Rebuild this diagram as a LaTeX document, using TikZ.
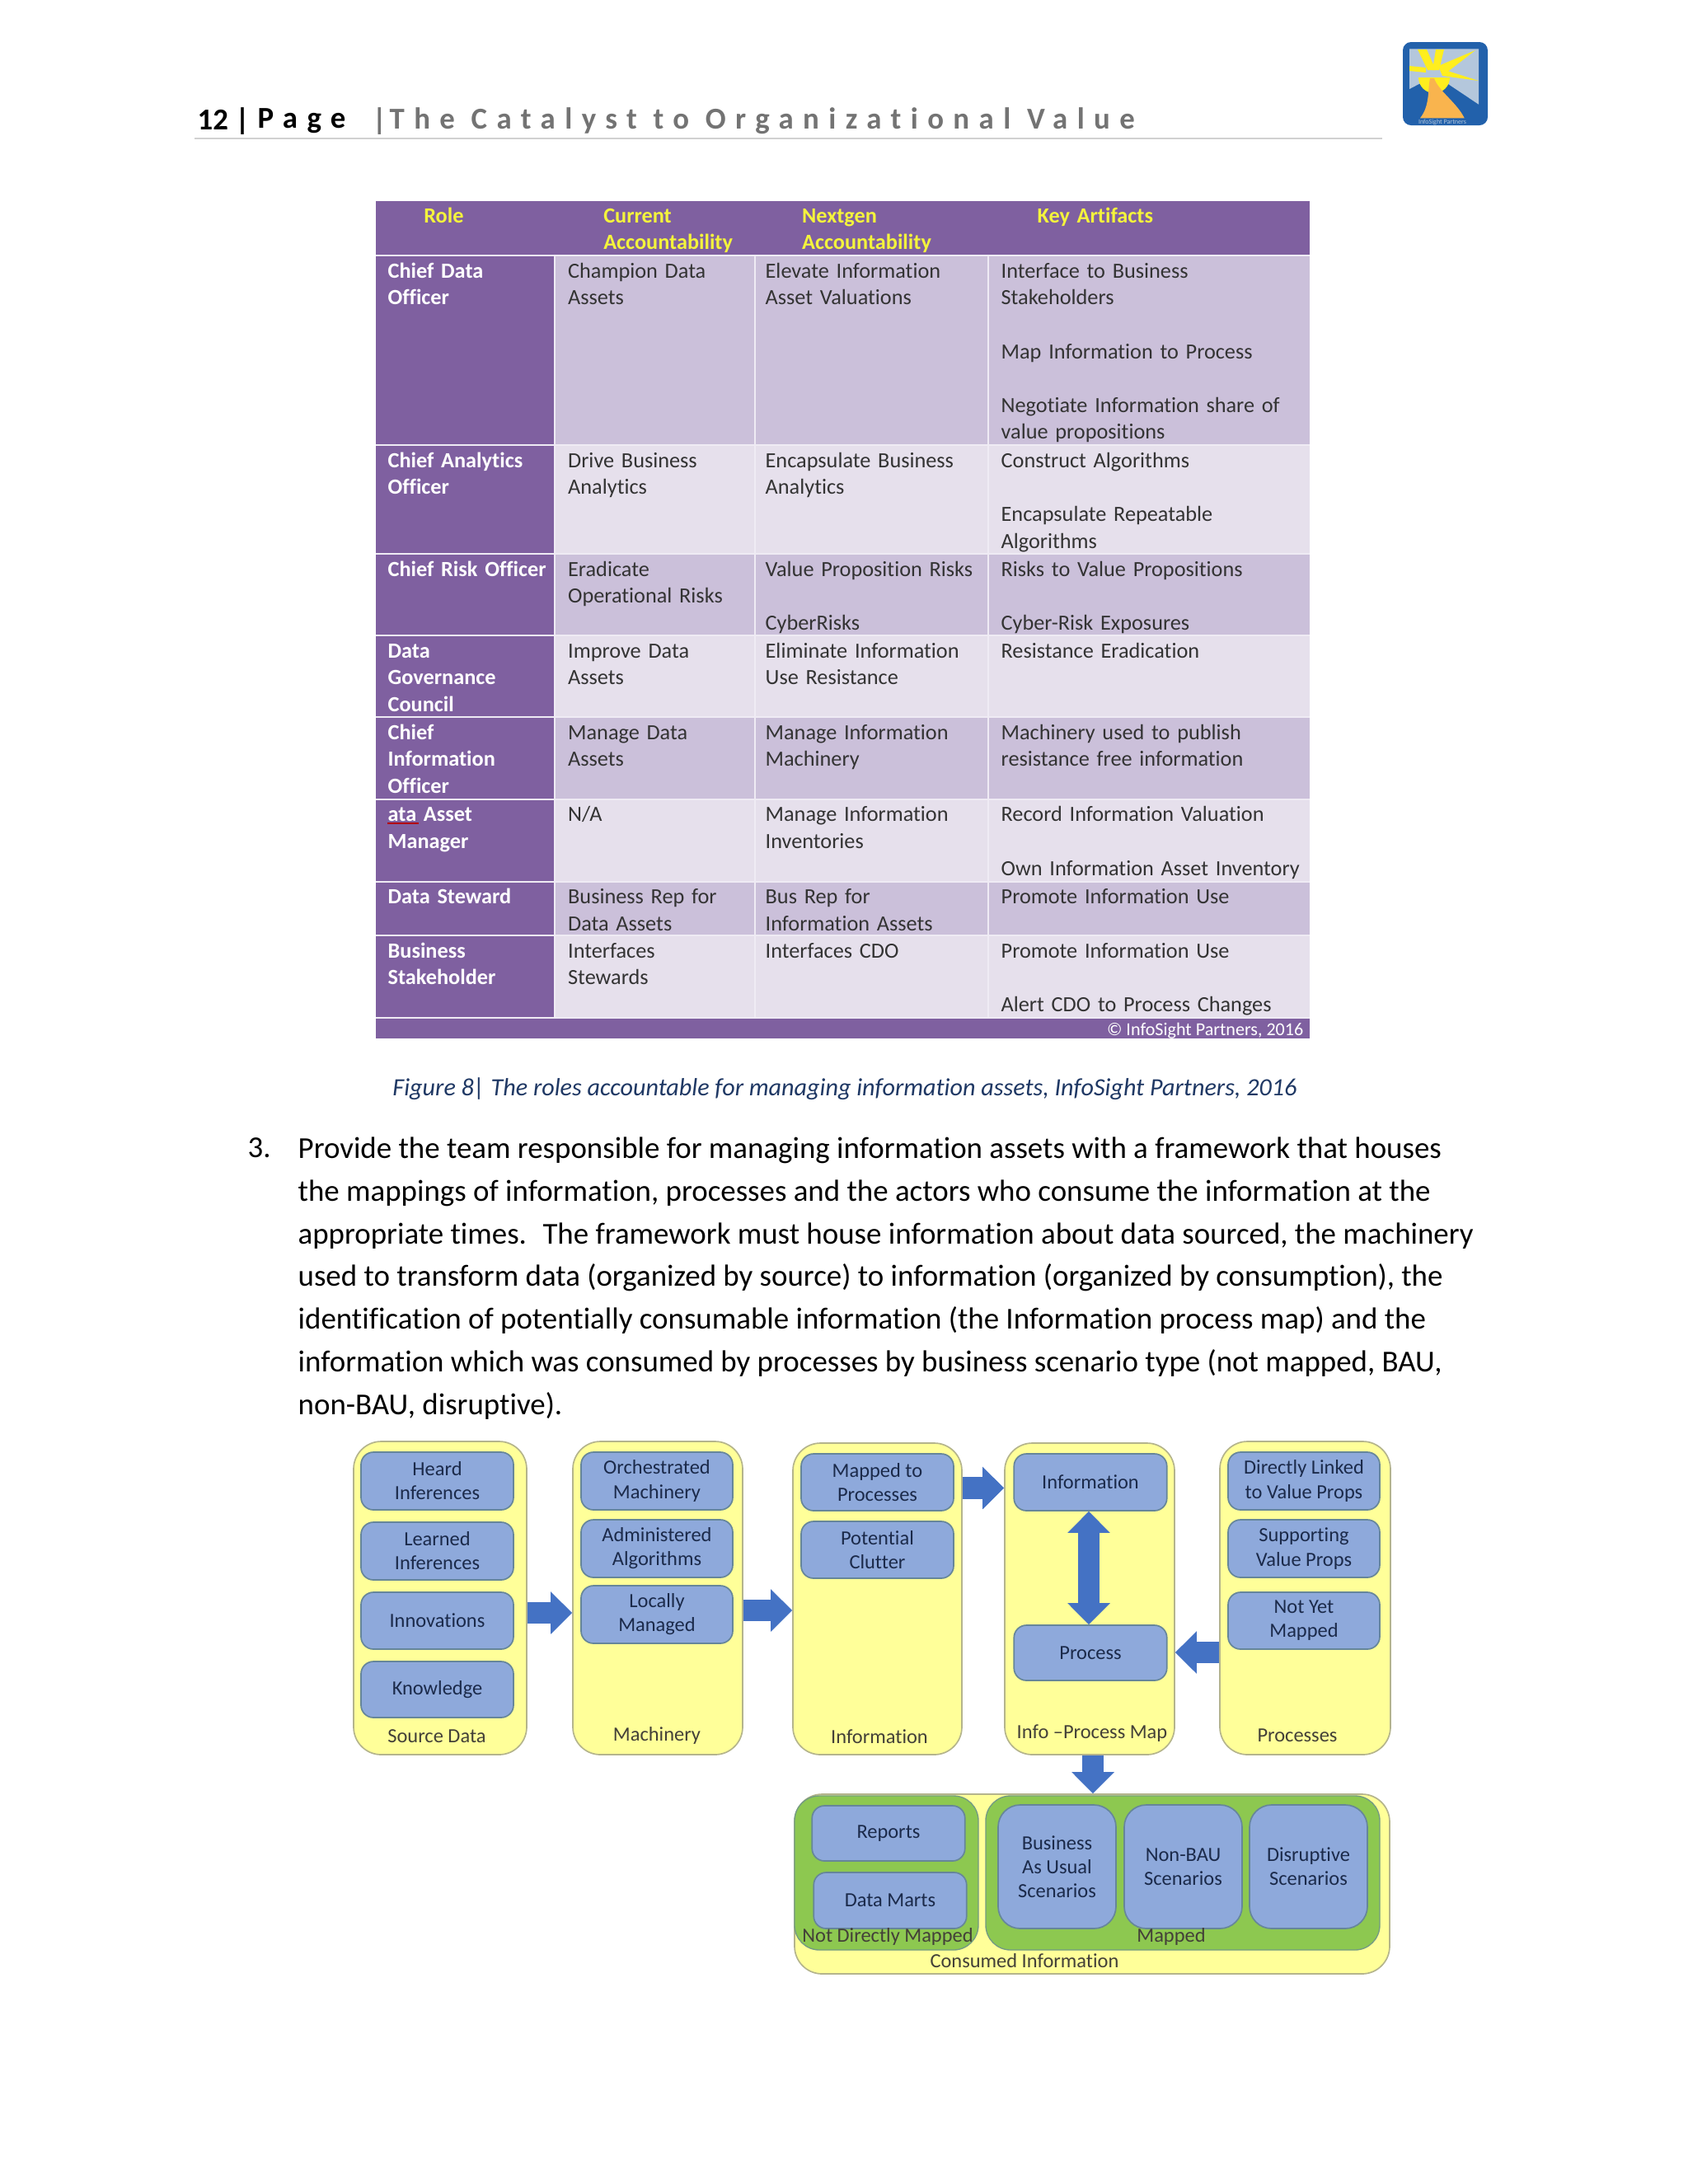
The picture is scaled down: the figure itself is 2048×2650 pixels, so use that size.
\documentclass[tikz,border=0pt]{standalone}
\usepackage{fontspec}
\usetikzlibrary{arrows.meta}
\setmainfont[Ligatures=CommonOff]{Carlito}
\newfontfamily\spacedfont[LetterSpace=31,Ligatures=CommonOff]{Carlito}
\definecolor{rolepurple}{HTML}{7F60A0}
\definecolor{rowdark}{HTML}{CBC0DA}
\definecolor{rowlight}{HTML}{E6E0EC}
\definecolor{rulelight}{HTML}{EFEBF4}
\definecolor{headyellow}{HTML}{F4F43C}
\definecolor{captionblue}{HTML}{1F3864}
\definecolor{panelyellow}{HTML}{FFFF99}
\definecolor{paneledge}{HTML}{B4B48C}
\definecolor{boxblue}{HTML}{8EA9DB}
\definecolor{boxedge}{HTML}{66869A}
\definecolor{groupgreen}{HTML}{8DC850}
\definecolor{arrowblue}{HTML}{4472C4}
\definecolor{boxtext}{HTML}{1B2A4A}
\definecolor{logoblue}{HTML}{2261AB}
\definecolor{logosky}{HTML}{B4C7DC}
\definecolor{logosun}{HTML}{FFEE1E}
\definecolor{logoroad}{HTML}{F9B44E}
\def\pw{0.2988pt}
\tikzset{
	wh/.style 2 args={minimum width={#1*\pw},minimum height={#2*\pw}},
	cell/.style={anchor=north west,inner sep=0pt,align=left,text width={#1*\pw},text=black!80,font=\fontsize{7.85}{9.72}\selectfont,execute at begin node=\strut},
	cell/.default=225,
	colc/.style={cell=265},
	cold/.style={cell=370},
	rolecell/.style={cell=198,text=white,font=\fontsize{7.85}{9.72}\selectfont\bfseries},
	headcell/.style={cell=#1,text=headyellow,font=\fontsize{7.85}{9.72}\selectfont\bfseries},
	panel/.style={draw=paneledge,fill=panelyellow,line width=0.5pt,rounded corners=10pt},
	group/.style={draw=boxedge!70!groupgreen,fill=groupgreen,line width=0.4pt,rounded corners=9pt},
	inbox/.style={draw=boxedge,fill=boxblue,line width=0.5pt,rounded corners=4.5pt,align=center,text=boxtext,inner sep=0pt,font=\fontsize{7.3}{8.7}\selectfont},
	tallbox/.style={inbox,rounded corners=8pt},
	caplabel/.style={inner sep=0pt,text=black!85!yellow,font=\fontsize{7.3}{8.7}\selectfont},
	blockarrow/.style={-{Triangle[length=7.8pt,width=15pt]},draw=arrowblue,line width=7.8pt},
	twoarrow/.style={{Triangle[length=7.8pt,width=15pt]}-{Triangle[length=7.8pt,width=15pt]},draw=arrowblue,line width=7.8pt},
}
\begin{document}
\begin{tikzpicture}[x=0.2988pt,y=-0.2988pt]
	\useasboundingbox (0,0) rectangle (2048,2650);

	\node(pagenum) at (239,147)[anchor=west,inner sep=0pt,font=\fontsize{11}{13}\selectfont\bfseries]{12 |};
	\node(pageword) at (312,147)[anchor=west,inner sep=0pt,font=\spacedfont\fontsize{11}{13}\selectfont\bfseries]{Page};
	\node(headbar) at (451,147)[anchor=west,inner sep=0pt,text=black!55,font=\fontsize{11}{13}\selectfont\bfseries]{|};
	\node(runhead) at (472,147)[anchor=west,inner sep=0pt,text=black!55,font=\spacedfont\fontsize{11}{13}\selectfont\bfseries]{The Catalyst to Organizational Value};
	\draw[black!18,line width=0.6pt] (236,168) -- (1677,168);

	\fill[logoblue,rounded corners=3pt] (1702,51) rectangle (1805,152);
	\fill[logosky] (1710,59.3) -- (1794,59.3) -- (1794,126.7) -- (1746.7,95) -- (1735,95) -- (1710,108) -- cycle;
	\fill[logosun] (1720,60) -- (1731,60) -- (1742,85) -- (1732,85) -- cycle;
	\fill[logosun] (1742,60) -- (1752,60) -- (1746,85) -- (1738,85) -- cycle;
	\fill[logosun] (1790,61) -- (1745,80) -- (1750,92) -- cycle;
	\fill[logosun] (1794,98) -- (1750,84) -- (1750,92) -- cycle;
	\fill[logosun] (1710,80) -- (1710,86) -- (1730,88) -- (1730,82) -- cycle;
	\fill[logosun] (1721,94) arc[start angle=180,end angle=0,radius=19] -- cycle;
	\fill[logoroad] (1735,95) -- (1740,95) .. controls (1745,110) and (1768,125) .. (1776.7,143.3) -- (1723,143.3) .. controls (1735,128) and (1732,110) .. cycle;
	\node(logotext) at (1750,148)[inner sep=0pt,text=logosky,font=\fontsize{2.4}{3}\selectfont]{InfoSight Partners};

	\fill[rolepurple] (456,244) rectangle (1589,1260);
	\foreach \rtop/\rbot/\rcol in {310/540/rowdark,540/672/rowlight,672/771/rowdark,771/870/rowlight,870/969.5/rowdark,969.5/1069.5/rowlight,1069.5/1134.6/rowdark,1134.6/1234.6/rowlight}
		\fill[\rcol] (673,\rtop) rectangle (1589,\rbot);
	\foreach \rtop in {310,540,672,771,870,969.5,1069.5,1134.6,1234.6}
		\draw[rulelight,line width=0.6pt] (456,\rtop) -- (1589,\rtop);
	\foreach \cx in {673,916,1199}
		\draw[rulelight,line width=0.4pt] (\cx,310) -- (\cx,1234.6);

	\node(hrole) at (513.7,247)[headcell=150]{Role};
	\node(hcur) at (731.6,247)[headcell=220]{Current\\Accountability};
	\node(hnext) at (972.5,247)[headcell=220]{Nextgen\\Accountability};
	\node(hkey) at (1258,247)[headcell=250]{Key Artifacts};

	\node(r1a) at (470,314)[rolecell]{Chief Data\\Officer};
	\node(r1b) at (688.5,314)[cell]{Champion Data\\Assets};
	\node(r1c) at (928,314)[colc]{Elevate Information\\Asset Valuations};
	\node(r1d) at (1214,314)[cold]{Interface to Business\\Stakeholders\\[9.72pt]Map Information to Process\\[9.72pt]Negotiate Information share of\\value propositions};

	\node(r2a) at (470,544)[rolecell]{Chief Analytics\\Officer};
	\node(r2b) at (688.5,544)[cell]{Drive Business\\Analytics};
	\node(r2c) at (928,544)[colc]{Encapsulate Business\\Analytics};
	\node(r2d) at (1214,544)[cold]{Construct Algorithms\\[9.72pt]Encapsulate Repeatable\\Algorithms};

	\node(r3a) at (470,676)[rolecell]{Chief Risk Officer};
	\node(r3b) at (688.5,676)[cell]{Eradicate\\Operational Risks};
	\node(r3c) at (928,676)[colc]{Value Proposition Risks\\[9.72pt]CyberRisks};
	\node(r3d) at (1214,676)[cold]{Risks to Value Propositions\\[9.72pt]Cyber-Risk Exposures};

	\node(r4a) at (470,775)[rolecell]{Data\\Governance\\Council};
	\node(r4b) at (688.5,775)[cell]{Improve Data\\Assets};
	\node(r4c) at (928,775)[colc]{Eliminate Information\\Use Resistance};
	\node(r4d) at (1214,775)[cold]{Resistance Eradication};

	\node(r5a) at (470,874)[rolecell]{Chief\\Information\\Officer};
	\node(r5b) at (688.5,874)[cell]{Manage Data\\Assets};
	\node(r5c) at (928,874)[colc]{Manage Information\\Machinery};
	\node(r5d) at (1214,874)[cold]{Machinery used to publish\\resistance free information};

	\node(r6a) at (470,973.5)[rolecell]{ata Asset\\Manager};
	\draw[red!70!black,line width=0.5pt] (470,999) -- (508,999);
	\node(r6b) at (688.5,973.5)[cell]{N/A};
	\node(r6c) at (928,973.5)[colc]{Manage Information\\Inventories};
	\node(r6d) at (1214,973.5)[cold]{Record Information Valuation\\[9.72pt]Own Information Asset Inventory};

	\node(r7a) at (470,1073.5)[rolecell]{Data Steward};
	\node(r7b) at (688.5,1073.5)[cell]{Business Rep for\\Data Assets};
	\node(r7c) at (928,1073.5)[colc]{Bus Rep for\\Information Assets};
	\node(r7d) at (1214,1073.5)[cold]{Promote Information Use};

	\node(r8a) at (470,1139)[rolecell]{Business\\Stakeholder};
	\node(r8b) at (688.5,1139)[cell]{Interfaces\\Stewards};
	\node(r8c) at (928,1139)[colc]{Interfaces CDO};
	\node(r8d) at (1214,1139)[cold]{Promote Information Use\\[9.72pt]Alert CDO to Process Changes};

	\node(tablecredit) at (1582,1251)[anchor=east,inner sep=0pt,text=white,font=\fontsize{6.6}{8}\selectfont]{© InfoSight Partners, 2016};

	\node(figcaption) at (1025,1307)[anchor=north,inner sep=0pt,text=captionblue,font=\fontsize{9}{11}\selectfont\itshape]{Figure 8| The roles accountable for managing information assets, InfoSight Partners, 2016};

	\node(itemnum) at (300,1393)[anchor=west,inner sep=0pt,font=\fontsize{11}{15.5}\selectfont]{3.};
	\node(itembody) at (361,1379)[anchor=north west,inner sep=0pt,align=left,font=\fontsize{11.03}{15.5}\selectfont]{Provide the team responsible for managing information assets with a framework that houses\\the mappings of information, processes and the actors who consume the information at the\\appropriate times.~ The framework must house information about data sourced, the machinery\\used to transform data (organized by source) to information (organized by consumption), the\\identification of potentially consumable information (the Information process map) and the\\information which was consumed by processes by business scenario type (not mapped, BAU,\\non-BAU, disruptive).};

	\node(srcpanel) at (534,1939)[panel,wh={210}{380}]{};
	\node(machpanel) at (798,1939)[panel,wh={206}{380}]{};
	\node(infopanel) at (1064.5,1940)[panel,wh={205}{378}]{};
	\node(mappanel) at (1322,1940)[panel,wh={206}{378}]{};
	\node(procpanel) at (1583.5,1939)[panel,wh={207}{380}]{};

	\node(heard) at (530.5,1797)[inbox,wh={185}{70}]{Heard\\Inferences};
	\node(learned) at (530.5,1882)[inbox,wh={185}{70}]{Learned\\Inferences};
	\node(innov) at (530.5,1966.5)[inbox,wh={185}{69}]{Innovations};
	\node(know) at (530.5,2050)[inbox,wh={185}{68}]{Knowledge};
	\node(srclabel) at (530,2107)[caplabel]{Source Data};

	\node(orch) at (797,1797)[inbox,wh={184}{70}]{Orchestrated\\Machinery};
	\node(admin) at (797,1879)[inbox,wh={184}{70}]{Administered\\Algorithms};
	\node(local) at (797,1959)[inbox,wh={184}{70}]{Locally\\Managed};
	\node(machlabel) at (797,2106)[caplabel]{Machinery};

	\node(mapped) at (1064.5,1798.5)[inbox,wh={185}{69}]{Mapped to\\Processes};
	\node(clutter) at (1064.5,1880.5)[inbox,wh={185}{69}]{Potential\\Clutter};
	\node(infolabel) at (1067,2107)[caplabel]{Information};

	\node(info) at (1323,1798.5)[inbox,wh={185.5}{69}]{Information};
	\node(proc) at (1323,2005.5)[inbox,wh={185.5}{67}]{Process};
	\node(maplabel) at (1325,2103)[caplabel]{Info –Process Map};

	\node(linked) at (1582,1797)[inbox,wh={184}{70}]{Directly Linked\\to Value Props};
	\node(support) at (1582,1879)[inbox,wh={184}{70}]{Supporting\\Value Props};
	\node(notyet) at (1582,1966.5)[inbox,wh={184}{69}]{Not Yet\\Mapped};
	\node(proclabel) at (1574,2106)[caplabel]{Processes};

	\node(conspanel) at (1325,2286)[panel,wh={722}{218}]{};
	\node(notdirect) at (1075.5,2272.5)[group,wh={223}{187}]{};
	\node(mappedgrp) at (1435,2272.5)[group,wh={478}{187}]{};
	\node(reports) at (1078,2224.5)[inbox,wh={185.5}{67}]{Reports};
	\node(marts) at (1080,2306)[inbox,wh={185.5}{68}]{Data Marts};
	\node(bau) at (1282.5,2265)[tallbox,wh={143}{150}]{Business\\As Usual\\Scenarios};
	\node(nonbau) at (1435.5,2265)[tallbox,wh={143}{150}]{Non-BAU\\Scenarios};
	\node(disrupt) at (1587.5,2265)[tallbox,wh={143}{150}]{Disruptive\\Scenarios};
	\node(ndlabel) at (1077,2350)[caplabel]{Not Directly Mapped};
	\node(mlabel) at (1421,2350)[caplabel]{Mapped};
	\node(conslabel) at (1243,2379)[caplabel]{Consumed Information};

	\coordinate (ya) at (0,1957);
	\coordinate (yb) at (0,1954);
	\coordinate (yc) at (0,1805.5);
	\coordinate (yd) at (0,2005);
	\coordinate (xe) at (1321,0);
	\coordinate (xf) at (1326,0);
	\draw[blockarrow] (srcpanel.east |- ya) -- (machpanel.west |- ya);
	\draw[blockarrow] (machpanel.east |- yb) -- (infopanel.west |- yb);
	\draw[blockarrow] (infopanel.east |- yc) -- (mappanel.west |- yc);
	\draw[blockarrow] (procpanel.west |- yd) -- (mappanel.east |- yd);
	\draw[twoarrow] (xe |- info.south) -- (xe |- proc.north);
	\draw[blockarrow] (xf |- mappanel.south) -- (xf |- conspanel.north);
\end{tikzpicture}
\end{document}
